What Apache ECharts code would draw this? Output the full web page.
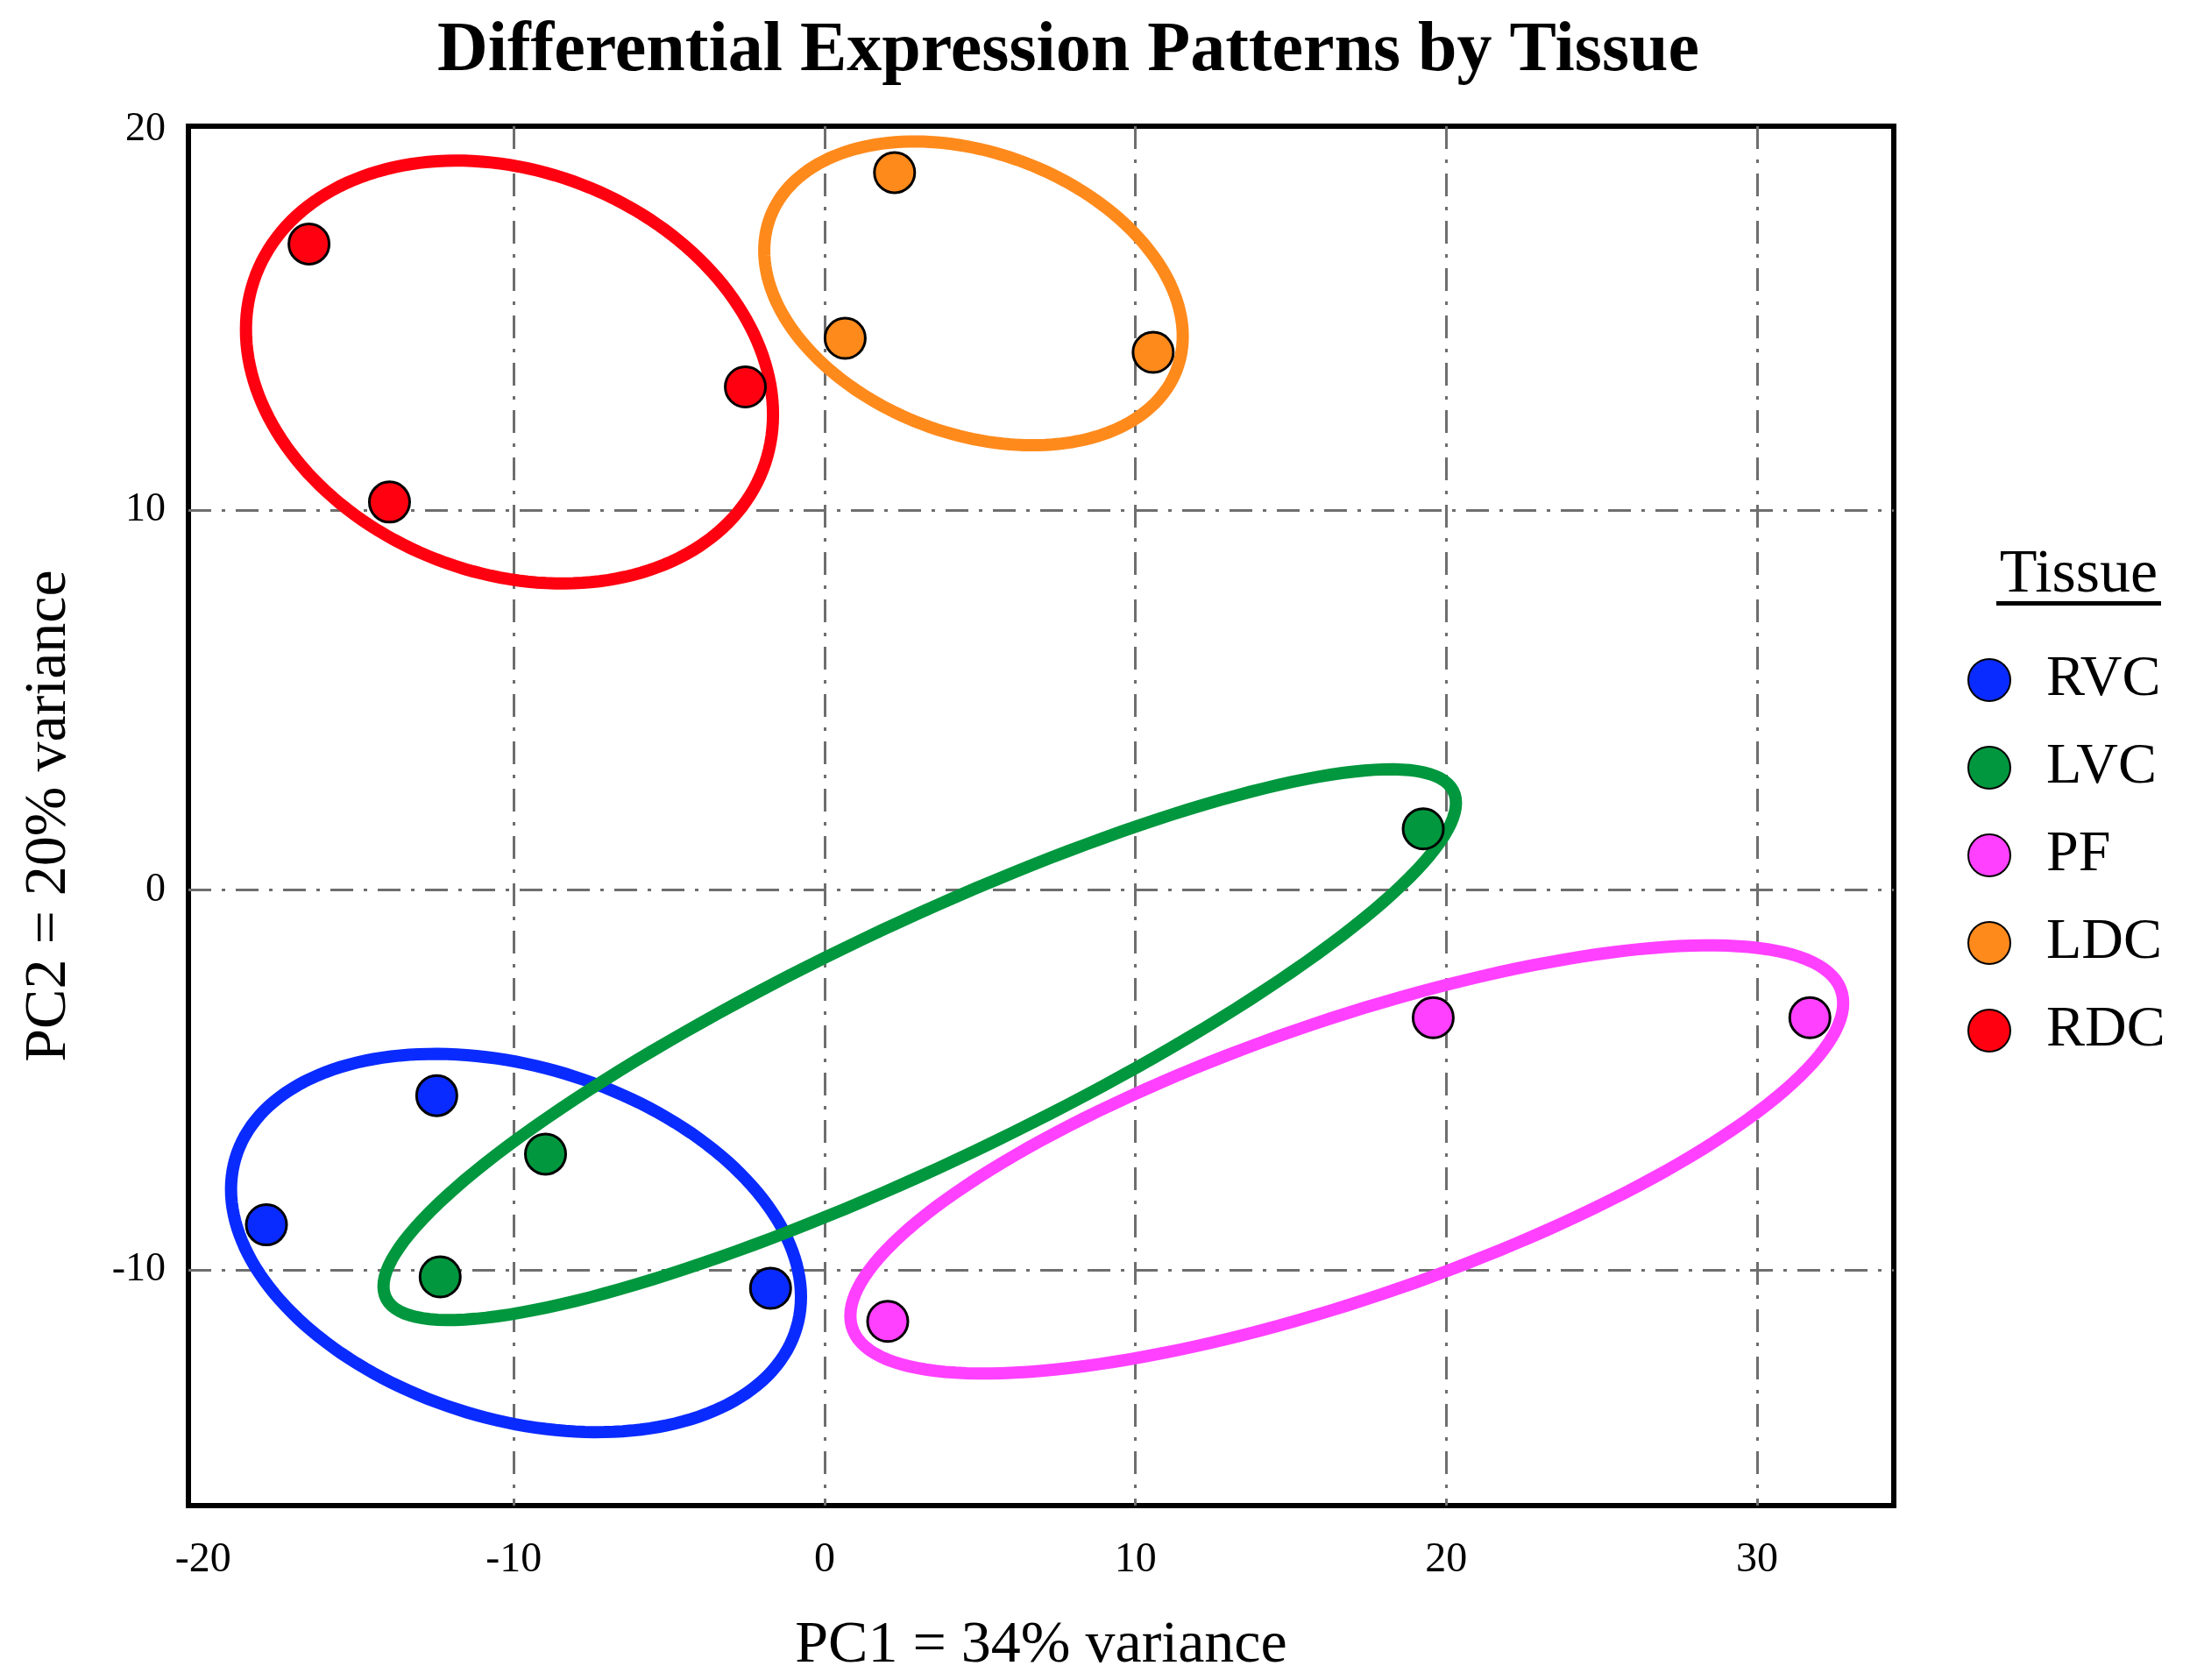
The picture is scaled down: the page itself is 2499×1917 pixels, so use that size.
<!DOCTYPE html>
<html>
<head>
<meta charset="utf-8">
<title>Differential Expression Patterns by Tissue</title>
<script src="https://cdn.jsdelivr.net/npm/echarts@6/dist/echarts.min.js"></script>
<style>
    html, body { margin: 0; padding: 0; background: #fff; }
    #pca-chart { width: 2499px; height: 1917px; }
</style>
</head>
<body>
<div id="pca-chart"></div>
<script>
var tissueNames = ['RVC', 'LVC', 'PF', 'LDC', 'RDC'];
var tissueColors = ['#0a2bff', '#00973e', '#ff40ff', '#ff8a1c', '#ff0010'];

// PC1 / PC2 scores of each sample
var rvcScores = [[-12.48, -5.41], [-17.96, -8.81], [-1.74, -10.48]];
var lvcScores = [[19.26, 1.61], [-8.98, -6.95], [-12.37, -10.18]];
var pfScores  = [[19.58, -3.36], [31.7, -3.36], [2.03, -11.35]];
var ldcScores = [[2.25, 18.88], [0.66, 14.52], [10.57, 14.15]];
var rdcScores = [[-16.59, 17.0], [-14.0, 10.21], [-2.55, 13.24]];

// ellipses: centre PC1, centre PC2, var PC1, cov, var PC2
var rvcEllipse = [-9.93, -9.29, 84.07, -12.98, 24.77];
var lvcEllipse = [3.06, -4.07, 297.68, 109.76, 52.51];
var pfEllipse  = [16.80, -7.09, 255.1, 65.75, 31.74];
var ldcEllipse = [4.79, 15.70, 45.33, -7.59, 15.98];
var rdcEllipse = [-10.14, 13.63, 71.89, -9.46, 30.96];

var xTickValues = [-10, 0, 10, 20, 30];
var xLabelValues = [-20, -10, 0, 10, 20, 30];
var yTickValues = [-10, 0, 10];
var yLabelValues = [-10, 0, 10, 20];

var scoreSets = [rvcScores, lvcScores, pfScores, ldcScores, rdcScores];
var ellipseSets = [rvcEllipse, lvcEllipse, pfEllipse, ldcEllipse, rdcEllipse];

var serifFont = '"Liberation Serif", "DejaVu Serif", serif';
var gridDash = [26, 12, 4, 12];

function ellipseRenderer(color) {
    return function (params, api) {
        var cx = api.value(0), cy = api.value(1);
        var a = Math.sqrt(api.value(2));
        var b = api.value(3) / a;
        var c = Math.sqrt(api.value(4) - b * b);
        var pts = [];
        for (var k = 0; k <= 180; k++) {
            var t = k / 180 * 2 * Math.PI;
            pts.push(api.coord([cx + a * Math.cos(t), cy + b * Math.cos(t) + c * Math.sin(t)]));
        }
        return {
            type: 'polygon',
            shape: {points: pts},
            style: {fill: 'none', stroke: color, lineWidth: 14}
        };
    };
}

var series = [];
tissueNames.forEach(function (name, i) {
    series.push({
        name: name,
        type: 'scatter',
        data: scoreSets[i],
        symbol: 'circle',
        symbolSize: 46,
        z: 5,
        itemStyle: {color: tissueColors[i], borderColor: '#000', borderWidth: 3, opacity: 1},
        emphasis: {disabled: true}
    });
});
tissueNames.forEach(function (name, i) {
    series.push({
        name: name,
        type: 'custom',
        data: [ellipseSets[i]],
        encode: {x: 0, y: 1},
        z: 3,
        silent: true,
        renderItem: ellipseRenderer(tissueColors[i])
    });
});

var myChart = echarts.init(document.getElementById('pca-chart'), null, {renderer: 'canvas'});

option = {
    backgroundColor: '#fff',
    animation: false,
    title: {
        text: 'Differential Expression Patterns by Tissue',
        left: 1214,
        top: 14,
        textAlign: 'center',
        textStyle: {fontFamily: serifFont, fontWeight: 'bold', fontSize: 80, color: '#000'}
    },
    legend: {
        data: tissueNames,
        orient: 'vertical',
        left: 2240,
        top: 738,
        itemWidth: 48,
        itemHeight: 48,
        itemGap: 34,
        icon: 'circle',
        selectedMode: false,
        textStyle: {fontFamily: serifFont, fontSize: 66, color: '#000', lineHeight: 48, padding: [0, 0, 0, 36]}
    },
    graphic: [
        {
            type: 'text',
            x: 2372,
            y: 657,
            style: {
                text: 'Tissue',
                font: '70px ' + serifFont,
                fill: '#000',
                textAlign: 'center',
                textVerticalAlign: 'middle'
            }
        },
        {
            type: 'rect',
            shape: {x: 2278, y: 686, width: 188, height: 5},
            style: {fill: '#000'}
        }
    ],
    grid: {
        left: 215,
        right: 338,
        top: 144,
        bottom: 197,
        show: true,
        borderColor: '#000',
        borderWidth: 6,
        containLabel: false
    },
    xAxis: {
        type: 'value',
        min: -20.47,
        max: 34.4,
        name: 'PC1 = 34% variance',
        nameLocation: 'middle',
        nameGap: 126,
        nameTextStyle: {fontFamily: serifFont, fontSize: 68, color: '#000'},
        axisLine: {show: false},
        axisTick: {show: false, customValues: xTickValues},
        axisLabel: {customValues: xLabelValues, margin: 38, fontFamily: serifFont, fontSize: 48, color: '#000'},
        splitLine: {show: true, lineStyle: {color: '#6e6e6e', width: 3, type: gridDash}}
    },
    yAxis: {
        type: 'value',
        min: -16.2,
        max: 20.1,
        name: 'PC2 = 20% variance',
        nameLocation: 'middle',
        nameGap: 125,
        nameTextStyle: {fontFamily: serifFont, fontSize: 68, color: '#000'},
        axisLine: {show: false},
        axisTick: {show: false, customValues: yTickValues},
        axisLabel: {customValues: yLabelValues, margin: 26, fontFamily: serifFont, fontSize: 46, color: '#000'},
        splitLine: {show: true, lineStyle: {color: '#6e6e6e', width: 3, type: gridDash}}
    },
    series: series
};

myChart.setOption(option);
</script>
</body>
</html>
